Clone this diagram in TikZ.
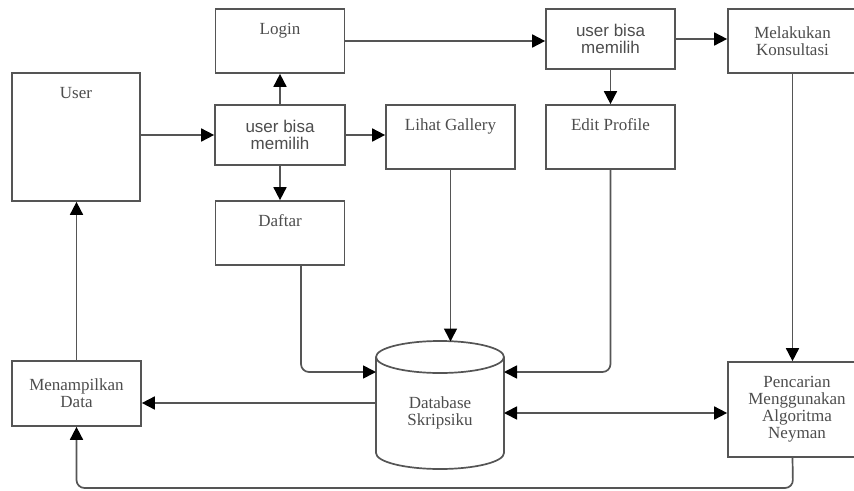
\documentclass[tikz,border=0pt]{standalone}
\usepackage{fontspec}
\setmainfont{Liberation Serif}
\newfontfamily\arialf{Liberation Sans}
\usetikzlibrary{arrows.meta}
\definecolor{ln}{HTML}{555555}
\definecolor{tx}{HTML}{4D4D4D}
\begin{document}
\begin{tikzpicture}[x=1pt,y=-1pt,
  box/.style={draw=ln, line width=1.7pt, inner sep=0pt, rectangle, text=tx},
  txt/.style={text=tx, font=\fontsize{17}{17}\selectfont, align=center, inner sep=0pt},
  stxt/.style={text=tx, font=\arialf\fontsize{17}{16.5}\selectfont, align=center, inner sep=0pt},
  arr/.style={draw=ln, line width=1.7pt, -{Triangle[length=13pt,width=13pt,color=black]}},
  arrb/.style={draw=ln, line width=1.7pt, {Triangle[length=13pt,width=13pt,color=black]}-{Triangle[length=13pt,width=13pt,color=black]}}
]
\useasboundingbox (0,0) rectangle (854,490);
\clip (0,0) rectangle (854,490);
\fill[white] (0,0) rectangle (854,490);

% boxes
\node[box, minimum width=128, minimum height=128] (user) at (76,137) {};
\node[txt, anchor=base] (tuser) at ([yshift=-26pt]user.north) {User};

\node[box, minimum width=129, minimum height=64] (login) at (280,41) {};
\node[txt, anchor=base] (tlogin) at ([yshift=-26pt]login.north) {Login};

\node[box, stxt, minimum width=130, minimum height=60] (ubm1) at (280,135) {user bisa\\memilih};

\node[box, minimum width=129, minimum height=64] (gallery) at (450.5,137) {};
\node[txt, anchor=base] (tgallery) at ([yshift=-26pt]gallery.north) {Lihat Gallery};

\node[box, minimum width=129, minimum height=64] (daftar) at (280,233) {};
\node[txt, anchor=base] (tdaftar) at ([yshift=-26pt]daftar.north) {Daftar};

\node[box, stxt, minimum width=129, minimum height=60] (ubm2) at (610.5,39) {user bisa\\memilih};

\node[box, minimum width=129, minimum height=64] (edit) at (610.5,137) {};
\node[txt, anchor=base] (tedit) at ([yshift=-26pt]edit.north) {Edit Profile};

\node[box, txt, minimum width=129, minimum height=64] (konsul) at (792.5,41) {Melakukan\\Konsultasi};

\node[box, txt, minimum width=138, minimum height=95] (pen) at (797,409.5) {Pencarian\\Menggunakan\\Algoritma\\Neyman};

\node[box, txt, minimum width=129, minimum height=65] (menamp) at (76.5,393.5) {Menampilkan\\Data};

% database cylinder
\draw[draw=ln, line width=1.7pt] (440,357) ellipse [x radius=64, y radius=16];
\draw[draw=ln, line width=1.7pt] (376,357) -- (376,453) arc[start angle=180, end angle=0, x radius=64, y radius=16] -- (504,357);
\node[txt] (tdb) at (440,413) {Database\\Skripsiku};

\coordinate (dbT) at (450.5,341.5);
\coordinate (dbL1) at (376,372);
\coordinate (dbR1) at (504,372);
\coordinate (dbW2) at (376,403);
\coordinate (dbE2) at (504,413);
\coordinate (bl) at (793,488);

% connectors
\draw[arr] (user.east |- ubm1.west) -- (ubm1.west);
\draw[arr] (ubm1.north) -- (login.south);
\draw[arr] (ubm1.south) -- (daftar.north);
\draw[arr] (ubm1.east) -- (gallery.west |- ubm1.east);
\draw[arr] (login.east) -- (ubm2.west |- login.east);
\draw[arr] (ubm2.east) -- (konsul.west |- ubm2.east);
\draw[arr] (ubm2.south) -- (edit.north);
\draw[arr] (konsul.south) -- (konsul.south |- pen.north);
\draw[arr] (gallery.south) -- (dbT);
\draw[arr, rounded corners=8pt] ([xshift=21pt]daftar.south) |- (dbL1);
\draw[arr, rounded corners=8pt] (edit.south) |- (dbR1);
\draw[arr] (dbW2) -- (dbW2 -| menamp.east);
\draw[arrb] (dbE2) -- (dbE2 -| pen.west);
\draw[arr, rounded corners=8pt] (konsul.south |- pen.south) -- (bl) -| (menamp.south);
\draw[arr] (menamp.north) -- (menamp.north |- user.south);
\end{tikzpicture}
\end{document}
